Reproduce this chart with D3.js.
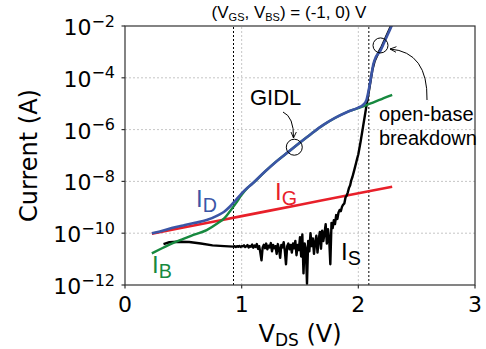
<!DOCTYPE html>
<html>
<head>
<meta charset="utf-8">
<script src="https://cdn.jsdelivr.net/npm/d3@7"></script>
<style>
  body { margin: 0; background: #fff; }
  svg { display: block; }
</style>
</head>
<body>
<div id="chart"></div>
<script>
// values, [V_DS (V), log10 of current (A)]
const idPts = [
  [0.23, -10.00], [0.30, -9.93], [0.40, -9.80], [0.50, -9.70], [0.60, -9.60],
  [0.70, -9.49], [0.80, -9.30], [0.85, -9.17], [0.90, -8.97], [0.95, -8.72],
  [1.00, -8.46], [1.10, -8.05], [1.20, -7.62], [1.30, -7.22], [1.40, -6.86],
  [1.50, -6.50], [1.60, -6.15], [1.70, -5.82], [1.80, -5.55], [1.90, -5.33],
  [2.00, -5.15], [2.04, -5.05], [2.07, -4.85], [2.09, -4.45], [2.11, -3.95],
  [2.13, -3.45], [2.15, -3.20], [2.19, -2.95], [2.23, -2.55], [2.27, -2.15],
  [2.29, -1.95]
];

const ibPts = [
  [0.23, -10.78], [0.30, -10.62], [0.40, -10.40], [0.50, -10.22], [0.60, -10.05],
  [0.70, -9.88], [0.80, -9.60], [0.85, -9.43], [0.90, -9.15], [0.95, -8.85],
  [1.00, -8.52], [1.05, -8.25], [1.10, -8.06], [1.20, -7.62], [1.30, -7.22],
  [1.40, -6.86], [1.50, -6.50], [1.60, -6.15], [1.70, -5.82], [1.80, -5.55],
  [1.90, -5.33], [2.00, -5.17], [2.05, -5.09], [2.10, -5.00], [2.15, -4.91],
  [2.20, -4.82], [2.25, -4.73], [2.29, -4.66]
];

const igPts = [
  [0.23, -10.02], [0.50, -9.78], [1.00, -9.34], [1.50, -8.90], [2.00, -8.46],
  [2.29, -8.21]
];

const isPts = [
  [0.33, -10.42], [0.38, -10.35], [0.45, -10.33], [0.55, -10.34], [0.65, -10.40],
  [0.75, -10.47], [0.85, -10.50], [0.93, -10.52], [0.94, -10.50], [0.95, -10.53],
  [0.96, -10.50], [0.97, -10.52], [0.98, -10.49], [0.99, -10.53], [1.00, -10.50],
  [1.01, -10.51], [1.02, -10.47], [1.03, -10.53], [1.04, -10.50], [1.05, -10.46],
  [1.06, -10.55], [1.07, -10.49], [1.08, -10.52], [1.09, -10.44], [1.10, -10.56],
  [1.11, -10.48], [1.12, -10.53], [1.13, -10.42], [1.14, -10.60], [1.15, -10.50],
  [1.16, -10.75], [1.17, -11.05], [1.18, -10.55], [1.19, -10.45], [1.20, -10.58],
  [1.21, -10.40], [1.22, -10.62], [1.23, -10.48], [1.24, -10.55], [1.25, -10.38],
  [1.26, -10.70], [1.27, -10.45], [1.28, -10.58], [1.29, -10.50], [1.30, -10.80],
  [1.31, -10.42], [1.32, -10.60], [1.33, -10.95], [1.34, -10.45], [1.35, -10.55],
  [1.36, -10.35], [1.37, -10.68], [1.38, -11.20], [1.39, -10.50], [1.40, -10.40],
  [1.41, -10.62], [1.42, -10.45], [1.43, -10.75], [1.44, -10.40], [1.45, -10.58],
  [1.46, -10.30], [1.47, -10.85], [1.48, -10.45], [1.49, -10.65], [1.50, -10.15],
  [1.51, -10.90], [1.52, -10.05], [1.53, -11.55], [1.54, -10.40], [1.55, -10.60],
  [1.56, -11.95], [1.57, -10.30], [1.58, -10.70], [1.59, -10.00], [1.60, -10.50],
  [1.61, -10.20], [1.62, -10.80], [1.63, -10.35], [1.64, -10.10], [1.65, -10.75],
  [1.66, -10.25], [1.67, -9.95], [1.68, -10.60], [1.69, -9.90], [1.70, -10.30],
  [1.71, -10.00], [1.72, -9.65], [1.73, -10.40], [1.74, -9.85], [1.75, -10.20],
  [1.76, -11.20], [1.77, -9.60], [1.78, -9.80], [1.79, -9.50], [1.80, -9.65],
  [1.81, -9.30], [1.82, -9.45], [1.83, -9.20], [1.84, -9.10], [1.85, -9.15],
  [1.86, -8.98], [1.87, -8.90], [1.88, -8.85], [1.89, -8.62], [1.90, -8.55],
  [1.91, -8.42], [1.92, -8.25], [1.93, -8.15], [1.94, -7.95], [1.95, -7.82],
  [1.96, -7.65], [1.97, -7.48], [1.98, -7.30], [1.99, -7.12], [2.00, -6.95],
  [2.02, -6.45], [2.04, -5.90], [2.06, -5.35], [2.08, -4.80], [2.10, -4.25],
  [2.12, -3.70], [2.14, -3.35], [2.17, -3.05], [2.20, -2.80], [2.24, -2.40],
  [2.28, -2.00]
];

const xTicks = [0, 1, 2, 3];
const yTickExps = [-12, -10, -8, -6, -4, -2];
const markerV = [0.93, 2.09];              // dotted guide lines
const circlePts = [[1.451, -6.68], [2.19, -2.75]];   // GIDL, breakdown

const W = 486, H = 349;
const margin = {left: 125, right: 11, top: 26, bottom: 64};

const svg = d3.select('#chart').append('svg')
    .attr('width', W)
    .attr('height', H);

const x = d3.scaleLinear().domain([0, 3]).range([margin.left, W - margin.right]);
const y = d3.scaleLog().domain([1e-12, 1e-2]).range([H - margin.bottom, margin.top]);

const dejavu = '"DejaVu Sans", sans-serif';
const arial = '"Liberation Sans", Arial, sans-serif';

svg.append('clipPath').attr('id', 'plotClip')
  .append('rect')
    .attr('x', x(0)).attr('y', y(1e-2))
    .attr('width', x(3) - x(0)).attr('height', y(1e-12) - y(1e-2));

// grid
const grid = svg.append('g');
grid.selectAll('.gx').data([1, 2]).enter().append('line')
    .attr('x1', d => x(d)).attr('x2', d => x(d))
    .attr('y1', y(1e-12)).attr('y2', y(1e-2))
    .attr('stroke', '#b8b8b8').attr('stroke-width', 0.8).attr('stroke-dasharray', '2,2');
grid.selectAll('.gy').data([-10, -8, -6, -4]).enter().append('line')
    .attr('x1', x(0)).attr('x2', x(3))
    .attr('y1', d => y(Math.pow(10, d))).attr('y2', d => y(Math.pow(10, d)))
    .attr('stroke', '#b8b8b8').attr('stroke-width', 0.8).attr('stroke-dasharray', '2,2');

// dotted guide lines
svg.selectAll('.marker').data(markerV).enter().append('line')
    .attr('x1', d => x(d)).attr('x2', d => x(d))
    .attr('y1', y(1e-12)).attr('y2', y(1e-2))
    .attr('stroke', '#000').attr('stroke-width', 1).attr('stroke-dasharray', '2,2');

// curves
const line = d3.line()
    .x(d => x(d[0]))
    .y(d => y(Math.pow(10, d[1])));
const smooth = d3.line()
    .x(d => x(d[0]))
    .y(d => y(Math.pow(10, d[1])))
    .curve(d3.curveMonotoneX);

const plot = svg.append('g').attr('clip-path', 'url(#plotClip)');
plot.append('path').datum(igPts).attr('d', smooth)
    .attr('fill', 'none').attr('stroke', '#e8202a').attr('stroke-width', 2.6);
plot.append('path').datum(isPts).attr('d', line)
    .attr('fill', 'none').attr('stroke', '#000').attr('stroke-width', 2.4)
    .attr('stroke-linejoin', 'round');
plot.append('path').datum(ibPts).attr('d', smooth)
    .attr('fill', 'none').attr('stroke', '#17893f').attr('stroke-width', 2.4);
plot.append('path').datum(idPts).attr('d', smooth)
    .attr('fill', 'none').attr('stroke', '#3b55a6').attr('stroke-width', 2.6);

// spines
svg.append('rect')
    .attr('x', x(0)).attr('y', y(1e-2))
    .attr('width', x(3) - x(0)).attr('height', y(1e-12) - y(1e-2))
    .attr('fill', 'none').attr('stroke', '#333').attr('stroke-width', 1.2);

// x ticks
const xg = svg.append('g');
xg.selectAll('line').data(xTicks).enter().append('line')
    .attr('x1', d => x(d)).attr('x2', d => x(d))
    .attr('y1', y(1e-12)).attr('y2', y(1e-12) + 3.5)
    .attr('stroke', '#333').attr('stroke-width', 1.2);
xg.selectAll('text').data(xTicks).enter().append('text')
    .attr('x', d => x(d)).attr('y', y(1e-12) + 27)
    .attr('text-anchor', 'middle')
    .style('font-family', dejavu).style('font-size', '22px')
    .text(d => d);

// y ticks with 10^n labels
const yg = svg.append('g');
yg.selectAll('line').data(yTickExps).enter().append('line')
    .attr('x1', x(0) - 3.5).attr('x2', x(0))
    .attr('y1', d => y(Math.pow(10, d))).attr('y2', d => y(Math.pow(10, d)))
    .attr('stroke', '#333').attr('stroke-width', 1.2);
const yl = yg.selectAll('text').data(yTickExps).enter().append('text')
    .attr('x', x(0) - 10).attr('y', d => y(Math.pow(10, d)) + 9)
    .attr('text-anchor', 'end')
    .style('font-family', dejavu).style('font-size', '22px');
yl.append('tspan').text('10');
yl.append('tspan').attr('dy', -8.5).style('font-size', '16px')
    .text(d => '\u2212' + Math.abs(d));

// axis labels
svg.append('text')
    .attr('transform', `translate(37,${(y(1e-12) + y(1e-2)) / 2}) rotate(-90)`)
    .attr('text-anchor', 'middle')
    .style('font-family', dejavu).style('font-size', '24px')
    .text('Current (A)');

const xl = svg.append('text')
    .attr('x', (x(0) + x(3)) / 2).attr('y', 342)
    .attr('text-anchor', 'middle')
    .style('font-family', dejavu).style('font-size', '24px');
xl.append('tspan').text('V');
xl.append('tspan').attr('dy', 4).style('font-size', '17px').text('DS');
xl.append('tspan').attr('dy', -4).text(' (V)');

// title
const tt = svg.append('text')
    .attr('x', 289).attr('y', 18)
    .attr('text-anchor', 'middle')
    .style('font-family', arial).style('font-size', '17px');
tt.append('tspan').text('(V');
tt.append('tspan').attr('dy', 3).style('font-size', '11px').text('GS');
tt.append('tspan').attr('dy', -3).text(', V');
tt.append('tspan').attr('dy', 3).style('font-size', '11px').text('BS');
tt.append('tspan').attr('dy', -3).text(') = (-1, 0) V');

// series labels
function subLabel(px, py, main, sub, color, size) {
    const t = svg.append('text')
        .attr('x', px).attr('y', py)
        .attr('fill', color)
        .style('font-family', arial).style('font-size', size + 'px');
    t.append('tspan').text(main);
    t.append('tspan').attr('dy', size * 0.2).style('font-size', (size * 0.82) + 'px').text(sub);
}
subLabel(196, 207, 'I', 'D', '#3b55a6', 24);
subLabel(275, 200, 'I', 'G', '#e8202a', 24);
subLabel(341, 260, 'I', 'S', '#000', 24);
subLabel(152, 273, 'I', 'B', '#17893f', 24);

// annotations
svg.selectAll('.ring').data(circlePts).enter().append('circle')
    .attr('cx', d => x(d[0])).attr('cy', d => y(Math.pow(10, d[1])))
    .attr('r', (d, i) => i === 0 ? 8 : 7.5)
    .attr('fill', 'none').attr('stroke', '#000').attr('stroke-width', 1);

svg.append('defs').append('marker')
    .attr('id', 'arrow')
    .attr('viewBox', '0 0 10 10')
    .attr('refX', 9).attr('refY', 5)
    .attr('markerWidth', 7).attr('markerHeight', 7)
    .attr('markerUnits', 'userSpaceOnUse')
    .attr('orient', 'auto')
  .append('path')
    .attr('d', 'M0,1 L9,5 L0,9')
    .attr('fill', 'none').attr('stroke', '#000').attr('stroke-width', 1.3);

svg.append('path')
    .attr('d', 'M283,112 Q294,117 293.5,138')
    .attr('fill', 'none').attr('stroke', '#000').attr('stroke-width', 1)
    .attr('marker-end', 'url(#arrow)');
svg.append('path')
    .attr('d', 'M427,100 Q428,52 390,49')
    .attr('fill', 'none').attr('stroke', '#000').attr('stroke-width', 1)
    .attr('marker-end', 'url(#arrow)');

svg.append('text')
    .attr('x', 250).attr('y', 105)
    .style('font-family', arial).style('font-size', '22px')
    .text('GIDL');
svg.append('text')
    .attr('x', 379).attr('y', 121)
    .style('font-family', arial).style('font-size', '20px')
    .text('open-base');
svg.append('text')
    .attr('x', 379).attr('y', 145)
    .style('font-family', arial).style('font-size', '20px')
    .text('breakdown');
</script>
</body>
</html>
